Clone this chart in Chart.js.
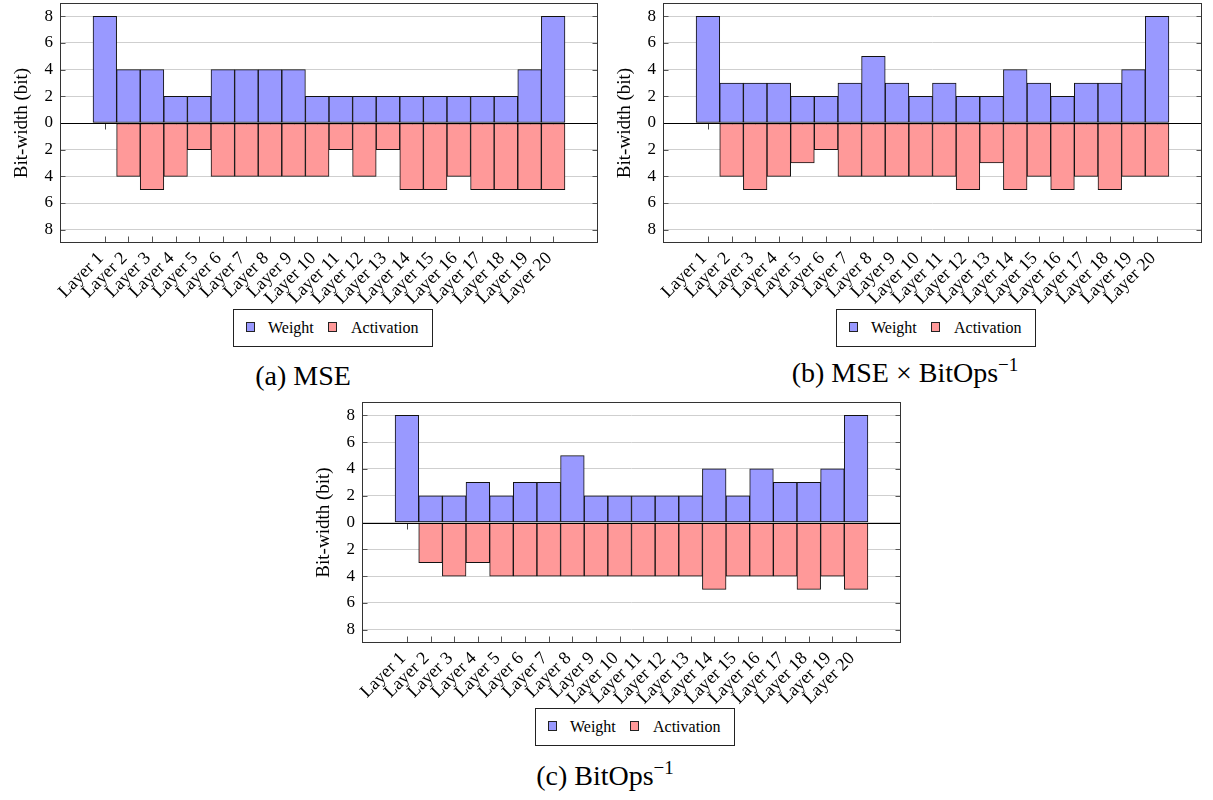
<!DOCTYPE html>
<html>
<head>
<meta charset="utf-8">
<script src="https://cdn.jsdelivr.net/npm/chart.js@4.4.1/dist/chart.umd.min.js"></script>
<style>
  body { margin: 0; width: 1213px; height: 800px; background: #fff; position: relative; overflow: hidden;
         font-family: 'Liberation Serif', serif; color: #000; }
  canvas { position: absolute; }
  .legend { position: absolute; width: 200px; height: 38px; box-sizing: border-box; border: 1px solid #222; background: #fff; }
  .legend .mark { position: absolute; top: 12px; width: 9px; height: 10px; box-sizing: border-box; border: 1px solid #222; }
  .legend .txt { position: absolute; top: 0; line-height: 36px; font-size: 16px; }
  .caption { position: absolute; font-size: 28px; line-height: 28px; white-space: nowrap; transform: translateX(-50%); }
  .caption sup { font-size: 19px; vertical-align: 11px; line-height: 0; }
</style>
</head>
<body>

<canvas id="chart-a" width="610" height="320" style="left:0;top:0"></canvas>
<canvas id="chart-b" width="610" height="320" style="left:603px;top:0"></canvas>
<canvas id="chart-c" width="610" height="320" style="left:302px;top:399px"></canvas>

<div class="legend" style="left:233px;top:309px">
  <span class="mark" style="left:12px;background:#9999ff"></span><span class="txt" style="left:34px">Weight</span>
  <span class="mark" style="left:94px;background:#ff9999"></span><span class="txt" style="left:117px">Activation</span>
</div>
<div class="legend" style="left:836px;top:309px">
  <span class="mark" style="left:12px;background:#9999ff"></span><span class="txt" style="left:34px">Weight</span>
  <span class="mark" style="left:94px;background:#ff9999"></span><span class="txt" style="left:117px">Activation</span>
</div>
<div class="legend" style="left:535px;top:708px">
  <span class="mark" style="left:12px;background:#9999ff"></span><span class="txt" style="left:34px">Weight</span>
  <span class="mark" style="left:94px;background:#ff9999"></span><span class="txt" style="left:117px">Activation</span>
</div>

<div class="caption" style="left:303px;top:362px">(a) MSE</div>
<div class="caption" style="left:905px;top:359px">(b) MSE &times; BitOps<sup>&minus;1</sup></div>
<div class="caption" style="left:605px;top:762px">(c) BitOps<sup>&minus;1</sup></div>

<script>
const layers = ['Layer 1', 'Layer 2', 'Layer 3', 'Layer 4', 'Layer 5', 'Layer 6', 'Layer 7',
  'Layer 8', 'Layer 9', 'Layer 10', 'Layer 11', 'Layer 12', 'Layer 13', 'Layer 14',
  'Layer 15', 'Layer 16', 'Layer 17', 'Layer 18', 'Layer 19', 'Layer 20']

// bit-widths per layer; activation of layer 1 is not quantized (no bar)
const weightMSE = [8, 4, 4, 2, 2, 4, 4, 4, 4, 2, 2, 2, 2, 2, 2, 2, 2, 2, 4, 8]
const actMSE    = [null, 4, 5, 4, 2, 4, 4, 4, 4, 4, 2, 4, 2, 5, 5, 4, 5, 5, 5, 5]

const weightMSEBitOps = [8, 3, 3, 3, 2, 2, 3, 5, 3, 2, 3, 2, 2, 4, 3, 2, 3, 3, 4, 8]
const actMSEBitOps    = [null, 4, 5, 4, 3, 2, 4, 4, 4, 4, 4, 5, 3, 5, 4, 5, 4, 5, 4, 4]

const weightBitOps = [8, 2, 2, 3, 2, 3, 3, 5, 2, 2, 2, 2, 2, 4, 2, 4, 3, 3, 4, 8]
const actBitOps    = [null, 3, 4, 3, 4, 4, 4, 4, 4, 4, 4, 4, 4, 5, 4, 4, 4, 5, 4, 5]

const yTicks = [-8, -6, -4, -2, 0, 2, 4, 6, 8]

const WEIGHT_COLOR = '#9999ff'
const ACT_COLOR = '#ff9999'
const FONT = { family: "'Liberation Serif', serif", size: 17 }
const XFONT = { family: "'Liberation Serif', serif", size: 18 }
const TITLE_FONT = { family: "'Liberation Serif', serif", size: 19 }

// pgfplots-like frame, inside tick marks and the zero line
const framePlugin = {
  id: 'frame',
  beforeDatasetsDraw(chart) {
    const { ctx, scales: { x, y } } = chart
    const y0 = Math.round(y.getPixelForValue(0)) + 0.5
    ctx.save()
    ctx.strokeStyle = '#444'
    ctx.lineWidth = 1
    ctx.beginPath()
    layers.forEach((_, i) => {
      const px = Math.round(x.getPixelForValue(i + 1)) + 0.5
      ctx.moveTo(px, y0)
      ctx.lineTo(px, y0 + 6)
    })
    ctx.stroke()
    ctx.restore()
  },
  afterDatasetsDraw(chart) {
    const { ctx, chartArea: a, scales: { x, y } } = chart
    const l = Math.round(a.left) + 0.5, r = Math.round(a.right) - 0.5
    const t = Math.round(a.top) + 0.5, b = Math.round(a.bottom) - 0.5
    ctx.save()
    ctx.lineWidth = 1
    ctx.strokeStyle = '#555'
    ctx.beginPath()
    yTicks.forEach(v => {
      const py = Math.round(y.getPixelForValue(v)) + 0.5
      ctx.moveTo(l, py); ctx.lineTo(l + 5, py)
      ctx.moveTo(r, py); ctx.lineTo(r - 5, py)
    })
    layers.forEach((_, i) => {
      const px = Math.round(x.getPixelForValue(i + 1)) + 0.5
      ctx.moveTo(px, b); ctx.lineTo(px, b - 6)
    })
    ctx.stroke()
    ctx.strokeStyle = '#000'
    ctx.beginPath()
    const y0 = Math.round(y.getPixelForValue(0)) + 0.5
    ctx.moveTo(l, y0); ctx.lineTo(r, y0)
    ctx.stroke()
    ctx.strokeStyle = '#333'
    ctx.strokeRect(l, t, r - l, b - t)
    ctx.restore()
  },
}

function makeChart(id, weights, acts, axisHeight, padRight) {
  const positions = layers.map((_, i) => i + 1)
  return new Chart(document.getElementById(id), {
    type: 'bar',
    data: {
      datasets: [
        {
          label: 'Weight',
          data: weights.map((v, i) => ({ x: positions[i], y: v })),
          backgroundColor: WEIGHT_COLOR,
        },
        {
          label: 'Activation',
          data: acts.map((v, i) => ({ x: positions[i], y: v == null ? null : -v })),
          backgroundColor: ACT_COLOR,
        },
      ],
    },
    options: {
      responsive: false,
      animation: false,
      grouped: false,
      categoryPercentage: 1,
      barPercentage: 1,
      borderColor: '#111',
      borderWidth: 1,
      borderSkipped: false,
      layout: { padding: { left: 0, top: 3, right: padRight, bottom: 0 } },
      plugins: { legend: { display: false }, tooltip: { enabled: false } },
      scales: {
        x: {
          type: 'linear',
          min: -0.9,
          max: 21.9,
          offset: false,
          afterBuildTicks: s => { s.ticks = positions.map(v => ({ value: v })) },
          afterFit: s => { s.height = axisHeight; s.paddingLeft = 0; s.paddingRight = 0 },
          grid: { display: false, drawTicks: false },
          border: { display: false },
          ticks: {
            autoSkip: false, minRotation: 45, maxRotation: 45, padding: 5, labelOffset: -4,
            color: '#000', font: XFONT,
            callback: v => layers[v - 1],
          },
        },
        y: {
          min: -9,
          max: 9,
          afterBuildTicks: s => { s.ticks = yTicks.map(v => ({ value: v })) },
          afterFit: s => { s.width = 60; s.paddingTop = 0; s.paddingBottom = 0 },
          grid: { color: '#cfcfcf', drawTicks: false },
          border: { display: false },
          ticks: { padding: 7, color: '#000', font: FONT, callback: v => Math.abs(v) },
          title: { display: true, text: 'Bit-width (bit)', color: '#000', font: TITLE_FONT, padding: { top: 11, bottom: 0 } },
        },
      },
    },
    plugins: [framePlugin],
  })
}

makeChart('chart-a', weightMSE, actMSE, 77, 12)
makeChart('chart-b', weightMSEBitOps, actMSEBitOps, 77, 11)
makeChart('chart-c', weightBitOps, actBitOps, 76, 11)
</script>
</body>
</html>
